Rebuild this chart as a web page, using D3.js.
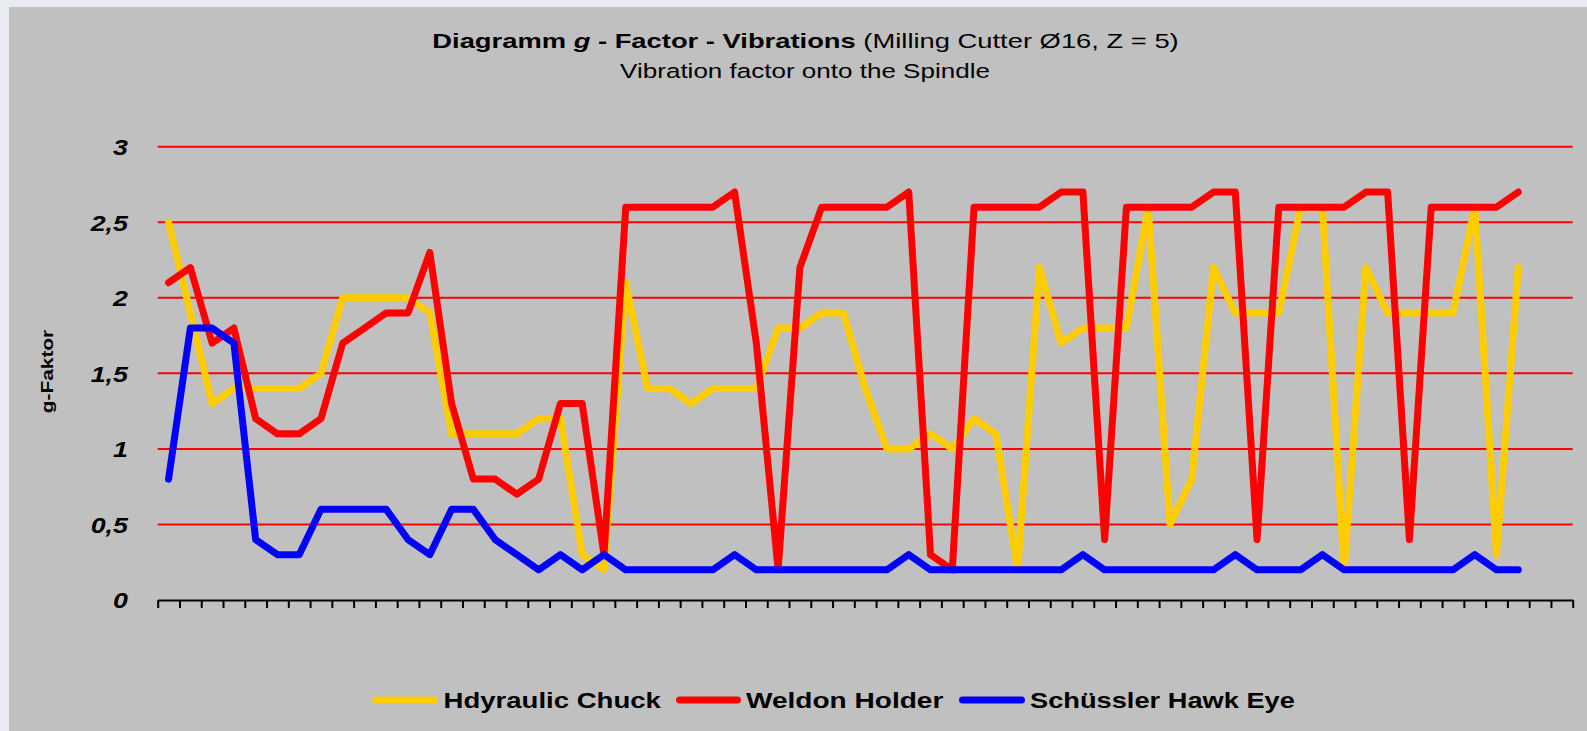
<!DOCTYPE html>
<html>
<head>
<meta charset="utf-8">
<script src="https://cdn.jsdelivr.net/npm/d3@7"></script>
<style>
  html, body { margin: 0; padding: 0; background: #e8ebf0; }
  svg { display: block; font-family: "Liberation Sans", Arial, sans-serif; }
</style>
</head>
<body>
<svg id="chart" width="1587" height="731"></svg>
<script>
// ---- data ----
const categories = d3.range(1, 66); // 65 category slots (no labels)
const seriesNames = ["Hdyraulic Chuck", "Weldon Holder", "Schüssler Hawk Eye"];
const seriesColors = ["#FFCC00", "#FF0000", "#0000FF"];
const hydraulicChuck = [2.5,1.9,1.3,1.4,1.4,1.4,1.4,1.5,2.0,2.0,2.0,2.0,1.9,1.1,1.1,1.1,1.1,1.2,1.2,0.3,0.2,2.1,1.4,1.4,1.3,1.4,1.4,1.4,1.8,1.8,1.9,1.9,1.4,1.0,1.0,1.1,1.0,1.2,1.1,0.2,2.2,1.7,1.8,1.8,1.8,2.6,0.5,0.8,2.2,1.9,1.9,1.9,2.6,2.6,0.2,2.2,1.9,1.9,1.9,1.9,2.6,0.3,2.2];
const weldonHolder = [2.1,2.2,1.7,1.8,1.2,1.1,1.1,1.2,1.7,1.8,1.9,1.9,2.3,1.3,0.8,0.8,0.7,0.8,1.3,1.3,0.3,2.6,2.6,2.6,2.6,2.6,2.7,1.7,0.2,2.2,2.6,2.6,2.6,2.6,2.7,0.3,0.2,2.6,2.6,2.6,2.6,2.7,2.7,0.4,2.6,2.6,2.6,2.6,2.7,2.7,0.4,2.6,2.6,2.6,2.6,2.7,2.7,0.4,2.6,2.6,2.6,2.6,2.7];
const hawkEye = [0.8,1.8,1.8,1.7,0.4,0.3,0.3,0.6,0.6,0.6,0.6,0.4,0.3,0.6,0.6,0.4,0.3,0.2,0.3,0.2,0.3,0.2,0.2,0.2,0.2,0.2,0.3,0.2,0.2,0.2,0.2,0.2,0.2,0.2,0.3,0.2,0.2,0.2,0.2,0.2,0.2,0.2,0.3,0.2,0.2,0.2,0.2,0.2,0.2,0.3,0.2,0.2,0.2,0.3,0.2,0.2,0.2,0.2,0.2,0.2,0.3,0.2,0.2];
const yTicks = [0, 0.5, 1, 1.5, 2, 2.5, 3];
const titleBold1 = "Diagramm ";
const titleItalic = "g";
const titleBold2 = "  - Factor - Vibrations";
const titleNormal = " (Milling Cutter Ø16, Z = 5)";
const subtitle = "Vibration factor onto the Spindle";
const yTitle = "g-Faktor";

// ---- layout ----
const svg = d3.select("#chart");
const plot = { left: 157.7, right: 1572.7, top: 146.7, bottom: 600 };

// helper: horizontally stretch a text element to a target width around its anchor
function fit(sel, x, y, width, rotate) {
  sel.attr("x", 0).attr("y", 0);
  const w = sel.node().getBBox().width;
  const s = width / w;
  sel.attr("transform", `translate(${x},${y})` + (rotate ? ` rotate(${rotate})` : "") + ` scale(${s},1)`);
}

// chart area background
svg.append("rect").attr("x", 9).attr("y", 7).attr("width", 1587 - 9).attr("height", 731 - 7).attr("fill", "#c0c0c0");

const x = d3.scaleBand().domain(categories).range([plot.left, plot.right]).padding(0);
const xb = d3.scaleLinear().domain([0, categories.length]).range([plot.left, plot.right]);
const y = d3.scaleLinear().domain([0, 3]).range([plot.bottom, plot.top]);

// gridlines
svg.append("g").selectAll("line").data(yTicks.filter(d => d > 0)).join("line")
  .attr("x1", plot.left).attr("x2", plot.right)
  .attr("y1", d => y(d)).attr("y2", d => y(d))
  .attr("stroke", "#FF0000").attr("stroke-width", 2);

// x axis
const xAxis = svg.append("g").attr("transform", `translate(0,${plot.bottom})`)
  .call(d3.axisBottom(xb).tickValues(d3.range(0, categories.length + 1)).tickFormat(() => "").tickSize(8).tickSizeOuter(0));
xAxis.select(".domain").attr("stroke", "#000").attr("stroke-width", 2.2);
xAxis.selectAll(".tick line").attr("stroke", "#000").attr("stroke-width", 2);

// y axis labels
const yAxis = svg.append("g").attr("transform", `translate(128,0)`)
  .call(d3.axisLeft(y).tickValues(yTicks).tickSize(0).tickPadding(0).tickFormat(d => String(d).replace(".", ",")));
yAxis.select(".domain").remove();
yAxis.selectAll(".tick text")
  .attr("x", 0).attr("dy", "0.36em")
  .attr("font-size", 22).attr("font-weight", "bold").attr("font-style", "italic")
  .attr("fill", "#000").attr("font-family", "'Liberation Sans', Arial, sans-serif")
  .attr("transform", "scale(1.22,1)");

// y axis title
const yt = svg.append("text").text(yTitle)
  .attr("font-size", 17).attr("font-weight", "bold").attr("text-anchor", "middle").attr("fill", "#000");
fit(yt, 53, 371.5, 84, -90);

// series lines
const series = [hydraulicChuck, weldonHolder, hawkEye];
const line = d3.line().x((d, i) => x(categories[i]) + x.bandwidth() / 2).y(d => y(d));
series.forEach((vals, k) => {
  svg.append("path").datum(vals).attr("d", line)
    .attr("fill", "none").attr("stroke", seriesColors[k]).attr("stroke-width", 7)
    .attr("stroke-linejoin", "round").attr("stroke-linecap", "round");
});

// title
const t1 = svg.append("text").attr("text-anchor", "middle").attr("font-size", 21).attr("fill", "#000");
t1.append("tspan").attr("font-weight", "bold").text(titleBold1);
t1.append("tspan").attr("font-weight", "bold").attr("font-style", "italic").text(titleItalic);
t1.append("tspan").attr("font-weight", "bold").text(titleBold2);
t1.append("tspan").attr("font-weight", "normal").text(titleNormal);
fit(t1, 805.5, 47.5, 747);

const t2 = svg.append("text").attr("text-anchor", "middle").attr("font-size", 19.5).attr("fill", "#000").text(subtitle);
fit(t2, 805, 77.5, 370);

// legend
const legendItems = [
  { sx1: 375.5, sx2: 434.5, tx: 443.5, tw: 218.5 },
  { sx1: 679.5, sx2: 737.5, tx: 746, tw: 198 },
  { sx1: 962.5, sx2: 1021.5, tx: 1030, tw: 265 }
];
legendItems.forEach((it, k) => {
  svg.append("line").attr("x1", it.sx1).attr("x2", it.sx2).attr("y1", 700).attr("y2", 700)
    .attr("stroke", seriesColors[k]).attr("stroke-width", 7).attr("stroke-linecap", "round");
  const lt = svg.append("text").text(seriesNames[k]).attr("font-size", 22).attr("font-weight", "bold").attr("fill", "#000");
  fit(lt, it.tx, 708, it.tw);
});
</script>
</body>
</html>
